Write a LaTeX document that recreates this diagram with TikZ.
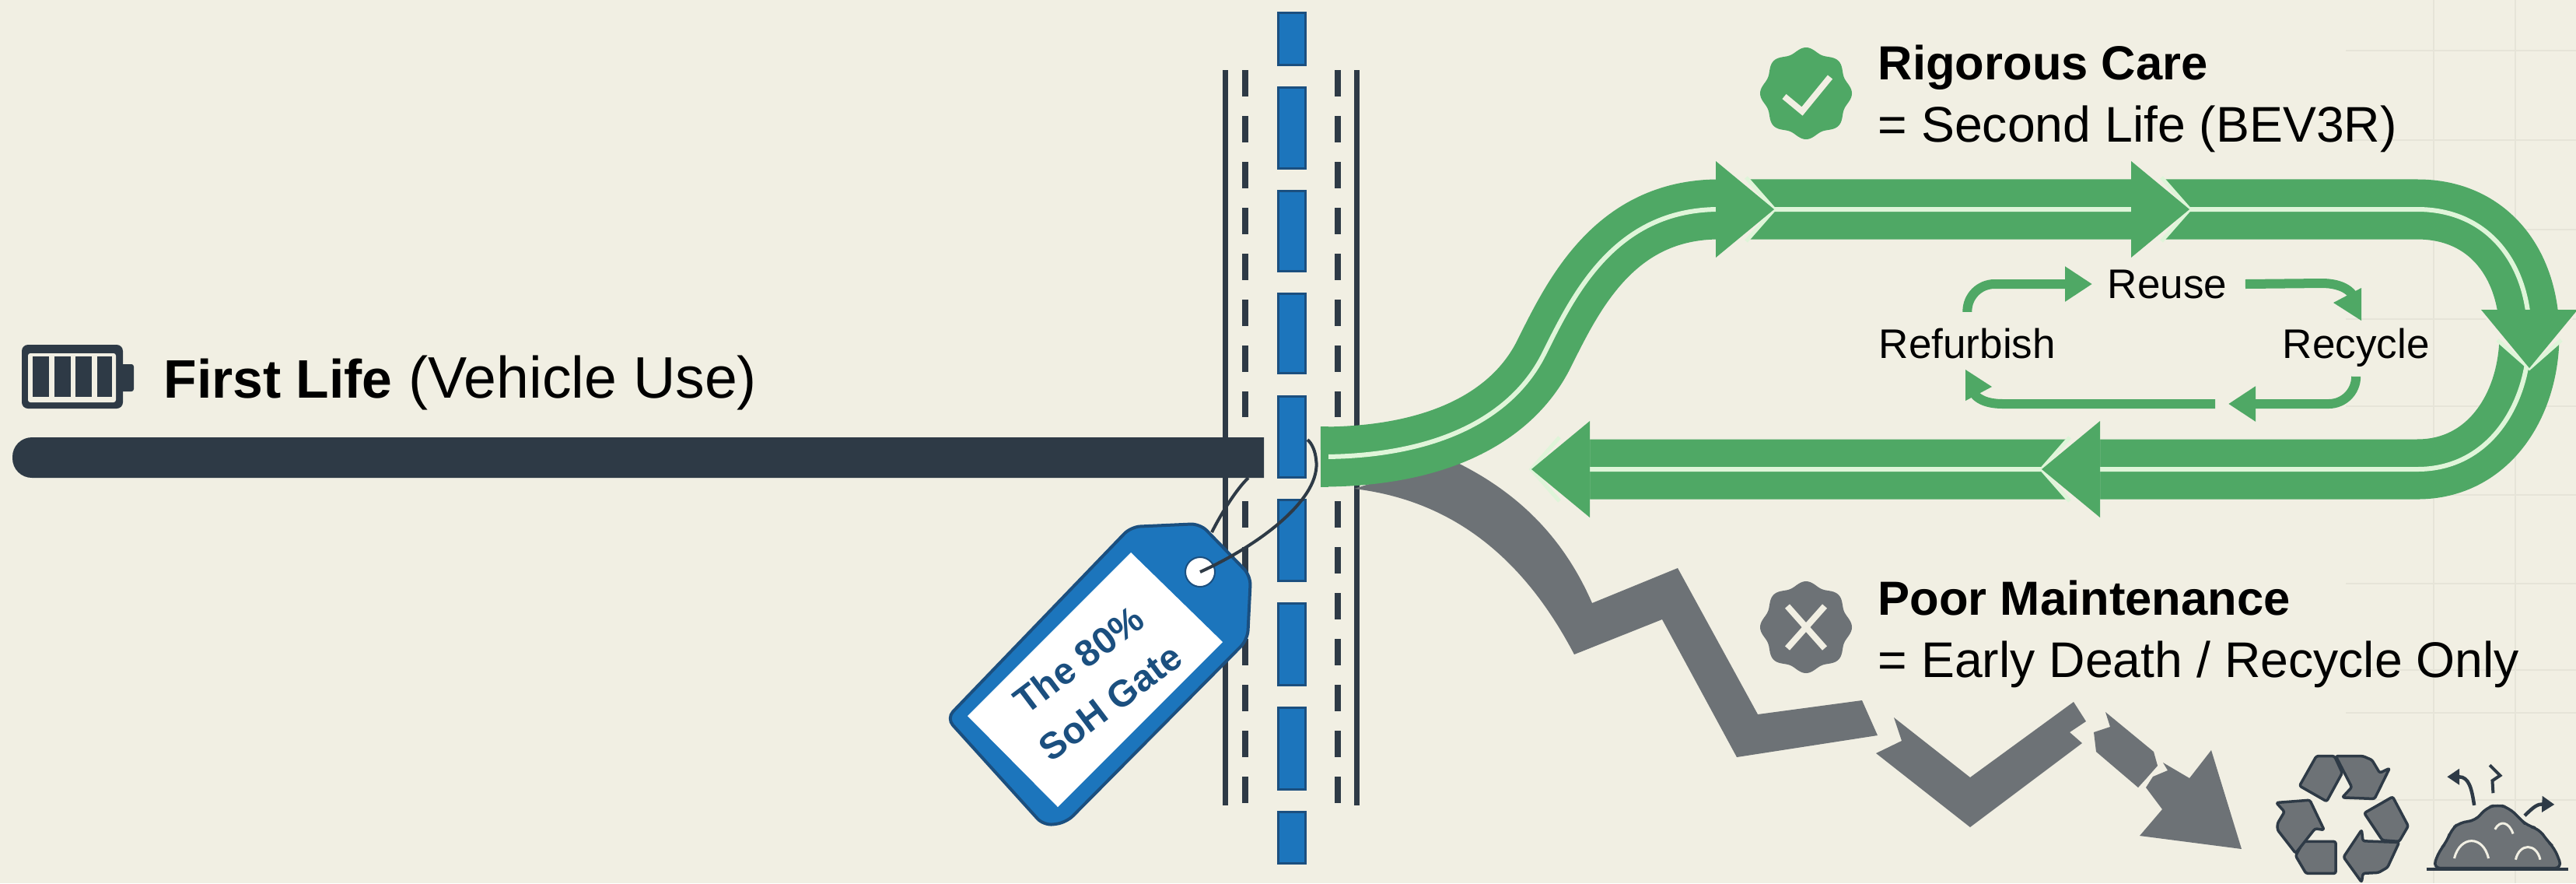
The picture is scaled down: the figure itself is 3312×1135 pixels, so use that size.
\documentclass[tikz,border=0pt]{standalone}
\usepackage{fontspec}
\setmainfont{Liberation Sans}
\usepackage{xcolor}
\usetikzlibrary{arrows.meta,positioning}
\definecolor{fundo}{HTML}{F1EFE3}
\definecolor{grade}{HTML}{E6E4D8}
\definecolor{escuro}{HTML}{2E3A46}
\definecolor{azul}{HTML}{1C75BC}
\definecolor{azulEscuro}{HTML}{1B4F7F}
\definecolor{verde}{HTML}{4FA865}
\definecolor{verdeClaro}{HTML}{DFF5D9}
\definecolor{cinza}{HTML}{6D7276}
\tikzset{
    gradeFina/.style={grade, line width=0.02cm},
    linhaPista/.style={escuro, line width=0.07cm},
    tracoPista/.style={escuro, line width=0.08cm, dash pattern=on 0.34cm off 0.25cm},
    faixaAzul/.style={fill=azul, draw=azulEscuro, line width=0.03cm},
    rota/.style={draw=verde, double=verdeClaro, line width=0.355cm, double distance=0.06cm},
    fluxoCiclo/.style={verde, line width=0.12cm},
    pontaReta/.style={-{Triangle[length=3.5mm,width=4.3mm]}},
    rotulo/.style={inner sep=0pt, align=left, anchor=west, font=\fontsize{18.3}{22.6}\selectfont},
    rotuloCiclo/.style={inner sep=0pt, font=\fontsize{15.1}{18}\selectfont},
    icone/.style={fill=cinza, draw=escuro, line width=0.035cm, line join=round, rounded corners=0.025cm},
    barbante/.style={escuro, line width=0.04cm},
    setaVerde/.pic={
        \fill[fundo] (0,0) -- (-34,40) -- (-75,62) -- (-75,-62) -- (-34,-40) -- cycle;
        \draw[verdeClaro, line width=0.05cm] (-36,41) -- (0,0) -- (-36,-41);
        \fill[verde] (0,0) -- (-75,62) -- (-75,-62) -- cycle;
    }
}
\begin{document}
\begin{tikzpicture}[x=0.01cm, y=-0.01cm]
    \useasboundingbox (0,0) rectangle (3312,1135);
    \fill[fundo] (0,0) rectangle (3312,1135);

    % grade ao fundo
    \foreach \gy in {65,180,295,410,522,636,750,861,916,1028}
        \draw[gradeFina] (3016,\gy) -- (3312,\gy);
    \foreach \gx in {3129,3234}
        \draw[gradeFina] (\gx,0) -- (\gx,1135);

    % portao
    \foreach \px in {1575,1744}
        \draw[linhaPista] (\px,90) -- (\px,1035);
    \foreach \px in {1601,1720} {
        \draw[tracoPista] (\px,90) -- (\px,536);
        \draw[tracoPista] (\px,644) -- (\px,1035);
    }
    \foreach \ya/\yb in {16/83,112/216,245/348,377/479,509/613,642/746,775/880,909/1014,1043/1109}
        \draw[faixaAzul] (1643,\ya) rectangle (1678,\yb);

    % primeira vida
    \fill[escuro] (1625,562) [rounded corners=0.25cm] -- (16,562) -- (16,614) [sharp corners] -- (1625,614) -- cycle;

    \fill[escuro, rounded corners=0.08cm] (28,443) rectangle (158,525);
    \fill[escuro, rounded corners=0.03cm] (150,468) rectangle (172,503);
    \fill[fundo, rounded corners=0.03cm] (36,454) rectangle (149,517);
    \foreach \ca/\cb in {42/63,70/91,97/118,125/144}
        \fill[escuro] (\ca,458) rectangle (\cb,510);
    \node[inner sep=0pt, anchor=base west, font=\fontsize{21.4}{24}\selectfont] (primeira)
        at (210,511) {{\fontsize{19.8}{24}\selectfont\bfseries First Life} (Vehicle Use)};

    % caminho cinza
    \fill[cinza] (1741,628) .. controls (1840,640) and (1945,690) .. (2024,841)
        -- (2137,796) -- (2233,973) -- (2414,945) -- (2394,900) -- (2260,918)
        -- (2157,730) -- (2047,775) .. controls (2010,690) and (1950,630) .. (1864,590) -- cycle;
    \fill[cinza] (2435,922) -- (2533,999) -- (2666,902) -- (2682,927) -- (2661,941)
        -- (2677,955) -- (2533,1063) -- (2412,968) -- (2445,952) -- cycle;
    \fill[cinza] (2707,915) -- (2769,966) -- (2774,984) -- (2759,1001) -- (2749,1012)
        -- (2695,966) -- (2692,941) -- (2713,934) -- cycle;
    \fill[cinza] (2781,980) -- (2815,1000) -- (2843,964) -- (2882,1091) -- (2751,1074)
        -- (2780,1040) -- (2759,1012) -- (2768,998) -- (2787,990) -- cycle;

    % caminho verde
    \draw[rota] (1698,587) .. controls (1850,587) and (1945,535) .. (1985,455)
        .. controls (2022,381) and (2075,269) .. (2210,269) -- (3108,269)
        .. controls (3200,269) and (3252,340) .. (3252,430)
        .. controls (3252,520) and (3200,603) .. (3108,603) -- (2029,603);
    \fill[verde] (1698,548) rectangle (1708,626);
    \pic at (2281,269) {setaVerde};
    \pic at (2815,269) {setaVerde};
    \pic[rotate=-90] at (3252,473) {setaVerde};
    \pic[rotate=180] at (2625,603) {setaVerde};
    \pic[rotate=180] at (1969,603) {setaVerde};

    % etiqueta
    \draw[barbante] (1558,684) .. controls (1570,660) and (1590,628) .. (1605,614);
    \draw[fill=azul, draw=azulEscuro, line width=0.04cm, rounded corners=0.12cm]
        (1217,923) -- (1454,677) -- (1543,673) -- (1608,740) -- (1604,822) -- (1371,1057)
        -- (1342,1061) -- cycle;
    \fill[white] (1244,920) -- (1454,710) -- (1572,825) -- (1360,1037) -- cycle;
    \node[circle, fill=white, draw=azulEscuro, line width=0.02cm, minimum size=0.38cm, inner sep=0pt] (furo) at (1543,735) {};
    \draw[barbante] (furo.center) .. controls (1620,700) and (1700,640) .. (1692,590)
        .. controls (1691,580) and (1687,570) .. (1681,565);
    \node[rotate=37, align=center, inner sep=0pt, text=azulEscuro,
        font=\bfseries\fontsize{13.6}{19.3}\selectfont] (textoEtiqueta) at (1407,875)
        {The 80\%\\SoH Gate};

    % cuidado rigoroso
    \begin{scope}[shift={(2322,120)}]
        \fill[verde] plot[domain=0:360, samples=145, smooth] (\x:{56+3*cos(8*\x)});
        \draw[fundo, line width=0.08cm] (-28,4) -- (-5,23) -- (31,-21);
    \end{scope}
    \node[rotulo] (rigoroso) at (2414,127) {{\fontsize{17.5}{22.6}\selectfont\bfseries Rigorous Care}\\= Second Life (BEV3R)};

    % ciclo
    \node[rotuloCiclo, anchor=base west] (refurbish) at (2415,460) {Refurbish};
    \node[rotuloCiclo, anchor=base west] (reuse) at (2709,383) {Reuse};
    \node[rotuloCiclo, anchor=base west] (recycle) at (2934,460) {Recycle};
    \coordinate (meioCiclo) at (2856,519);
    \coordinate (fimRecycle) at (3030,392);
    \coordinate (fimRefurbish) at (2533,495);
    \draw[fluxoCiclo, rounded corners=0.35cm, pontaReta, shorten <=0.2cm, shorten >=0.19cm] (refurbish.north) |- (reuse.west);
    \draw[fluxoCiclo] ([xshift=0.23cm]reuse.east) -- (2985,364)
        .. controls (3012,364) and (3028,375) .. (fimRecycle);
    \fill[verde] (3036,370) -- (3000,389) -- (3036,412) -- cycle;
    \draw[fluxoCiclo, rounded corners=0.35cm, pontaReta, shorten <=0.12cm, shorten >=0.09cm] (recycle.south) |- (meioCiclo);
    \draw[fluxoCiclo] ([xshift=-0.08cm]meioCiclo) -- (2575,519)
        .. controls (2550,519) and (2536,510) .. (fimRefurbish);
    \fill[verde] (2527,515) -- (2561,497) -- (2527,475) -- cycle;

    % manutencao ruim
    \begin{scope}[shift={(2322,806)}]
        \fill[cinza] plot[domain=0:360, samples=145, smooth] (\x:{56+3*cos(8*\x)});
        \draw[fundo, line width=0.08cm] (-24,-27) -- (24,27) (24,-27) -- (-24,27);
    \end{scope}
    \node[rotulo] (ruim) at (2414,815) {{\fontsize{17.5}{22.6}\selectfont\bfseries Poor Maintenance}\\= Early Death / Recycle Only};

    % icones
    \begin{scope}[shift={(2850,930)}, x=0.00333cm, y=-0.00333cm]
        \draw[icone] (385,125) -- (455,125) -- (485,190) -- (425,300) -- (320,240) -- cycle;
        \draw[icone] (460,125) -- (565,125) -- (600,140) -- (630,190) -- (668,172) -- (610,290)
            -- (485,285) -- (522,245) -- cycle;
        \draw[icone] (680,282) -- (740,395) -- (705,455) -- (640,450) -- (570,345) -- cycle;
        \draw[icone] (705,458) -- (660,555) -- (625,575) -- (565,578) -- (560,612) -- (490,515)
            -- (560,410) -- (565,453) -- cycle;
        \draw[icone] (335,455) -- (460,455) -- (460,578) -- (345,578) -- (305,510) -- cycle;
        \draw[icone] (230,305) -- (360,295) -- (415,410) -- (380,405) -- (305,500) -- (235,410)
            -- (235,385) -- (262,340) -- cycle;

        \draw[icone, rounded corners=0.1cm] (835,558) -- (860,490) -- (890,455) -- (905,410) -- (940,380)
            -- (1000,375) -- (1040,325) -- (1085,312) -- (1130,325) -- (1170,365) -- (1200,395)
            -- (1245,405) -- (1275,450) -- (1305,480) -- (1335,558) -- cycle;
        \draw[escuro, line width=0.04cm] (810,562) -- (1358,562);
        \draw[fundo, line width=0.03cm] (918,520) .. controls (940,430) and (1030,430) .. (1050,520);
        \draw[fundo, line width=0.03cm] (1155,525) .. controls (1170,460) and (1235,460) .. (1250,525);
        \draw[fundo, line width=0.03cm] (1075,408) .. controls (1095,370) and (1130,380) .. (1145,425);
        \draw[escuro, line width=0.045cm, -{Triangle[length=1.6mm,width=2mm]}] (995,315)
            .. controls (985,250) and (975,205) .. (890,205);
        \draw[escuro, line width=0.04cm] (1068,268) -- (1065,220) -- (1095,200) -- (1055,160);
        \draw[escuro, line width=0.045cm, -{Triangle[length=1.6mm,width=2mm]}] (1190,355)
            .. controls (1225,320) and (1240,310) .. (1305,312);
    \end{scope}
\end{tikzpicture}
\end{document}
